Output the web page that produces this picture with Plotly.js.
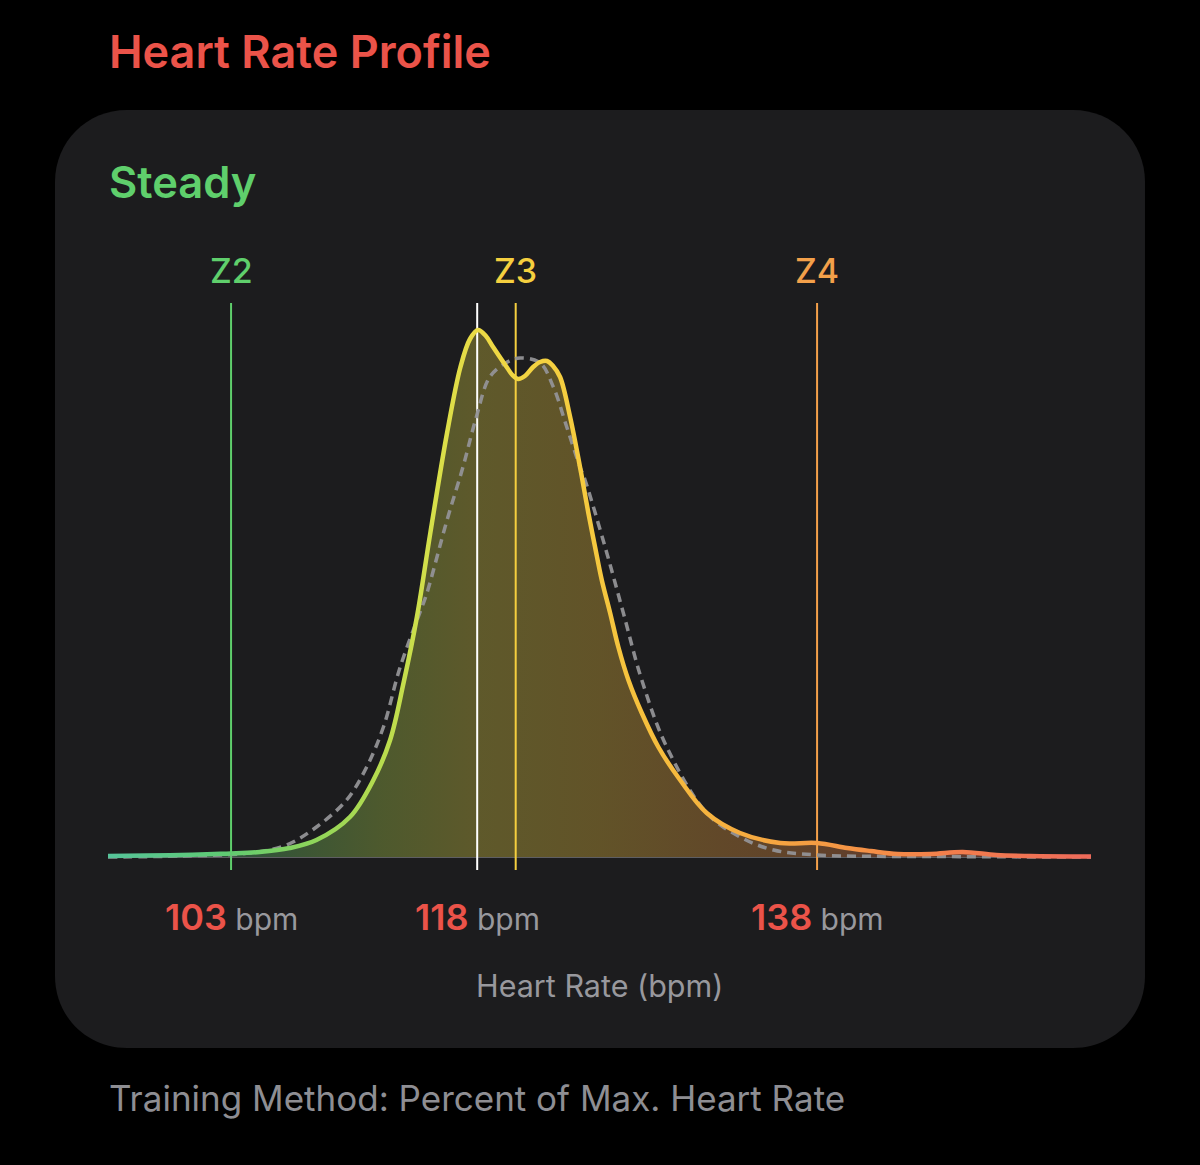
<!DOCTYPE html>
<html>
<head>
<meta charset="utf-8">
<script src="https://cdn.plot.ly/plotly-3.0.1.min.js"></script>
<style>
  html, body { margin: 0; padding: 0; background: #000; }
  #chart { width: 1200px; height: 1165px; }
</style>
</head>
<body>
<div id="chart"></div>
<script>
// ---------------- DATA ----------------
// Heart-rate distribution of the workout (bpm vs relative time density)
const heartRate = [95.65, 98, 100, 102, 103, 104.7, 106.5, 108.1, 110.1, 111.5, 112.5, 113.3, 114.1, 114.9, 115.9, 116.7, 117.27, 117.75, 118.22, 118.65, 119.5, 119.8, 120.14, 120.55, 121.04, 121.46, 121.87, 122.23, 122.65, 123.25, 123.84, 124.34, 124.74, 125.14, 125.64, 126.13, 126.73, 127.53, 128.52, 129.82, 131.41, 133.4, 135.8, 138, 139.8, 141.2, 142.8, 144.8, 146.7, 148.7, 150.7, 154.36];
const density   = [1, 1.5, 2, 3, 3.5, 5, 9, 17, 40, 77, 117, 174, 240, 324, 424, 490, 518, 527, 521, 510, 489, 482, 478, 481, 490, 495, 496, 491, 480, 440, 390, 344, 310, 277, 244, 210, 177, 144, 110, 77, 44, 24, 14, 14, 9, 6, 3, 3, 5, 2, 1, 0.5];

// Reference (expected) profile, dashed grey
const expectedHR      = [95.65, 100, 104.1, 106.3, 108.1, 109.9, 111.1, 112.1, 113.1, 114.4, 114.7, 115.9, 116.85, 117.65, 118.45, 119.4, 120.26, 121.46, 122.25, 123.05, 123.84, 124.14, 125.34, 126.43, 127.53, 129.02, 131.41, 133.4, 135.4, 138, 145, 154.36];
const expectedDensity = [0, 1, 4, 12, 30, 57, 90, 130, 190, 250, 264, 337, 390, 440, 480, 494, 499, 494, 470, 430, 390, 377, 310, 244, 177, 110, 44, 20, 7, 2, 0.5, 0];

// Zones
const zoneNames  = ['Z2', 'Z3', 'Z4'];
const zoneStarts = [103, 120, 138];
const zoneColors = ['#5fcf6c', '#f5cf3f', '#f3a04a'];

// Average heart rate (white marker)
const averageHR = 117.7;

// Bottom value labels
const markerValues = [103, averageHR, 138];
const markerLabels = ['103', '118', '138'];

// ---------------- LAYOUT HELPERS ----------------
const PL = 108, PR = 1091, PT = 303, PB = 870;   // plot area in px
const ax = px => (px - PL) / (PR - PL);
const ay = py => (PB - py) / (PB - PT);
const yRange = [-13, 554];
const xRange = [heartRate[0], heartRate[heartRate.length - 1]];

function roundedRect(x0, y0, x1, y1, r) {
  const k = 0.56;
  const P = (x, y) => ax(x).toFixed(5) + ',' + ay(y).toFixed(5);
  return 'M ' + P(x0 + r, y0) +
    ' L ' + P(x1 - r, y0) +
    ' C ' + P(x1 - r + k * r, y0) + ' ' + P(x1, y0 + r - k * r) + ' ' + P(x1, y0 + r) +
    ' L ' + P(x1, y1 - r) +
    ' C ' + P(x1, y1 - r + k * r) + ' ' + P(x1 - r + k * r, y1) + ' ' + P(x1 - r, y1) +
    ' L ' + P(x0 + r, y1) +
    ' C ' + P(x0 + r - k * r, y1) + ' ' + P(x0, y1 - r + k * r) + ' ' + P(x0, y1 - r) +
    ' L ' + P(x0, y0 + r) +
    ' C ' + P(x0, y0 + r - k * r) + ' ' + P(x0 + r - k * r, y0) + ' ' + P(x0 + r, y0) + ' Z';
}

const FONT = 'Inter, "Noto Sans", Roboto, sans-serif';

// ---------------- TRACES ----------------
const traces = [];

// gradient area
traces.push({
  type: 'scatter', mode: 'lines',
  x: heartRate, y: density,
  line: { width: 0, shape: 'spline', smoothing: 1 },
  fill: 'tozeroy',
  fillgradient: {
    type: 'horizontal',
    start: xRange[0], stop: xRange[1],
    colorscale: [
      [0.00, 'rgba(86,196,154,0.30)'],
      [0.15, 'rgba(95,203,114,0.32)'],
      [0.28, 'rgba(184,220,78,0.32)'],
      [0.38, 'rgba(236,218,69,0.32)'],
      [0.50, 'rgba(246,200,62,0.32)'],
      [0.62, 'rgba(245,166,64,0.32)'],
      [0.80, 'rgba(243,130,74,0.32)'],
      [1.00, 'rgba(238,106,90,0.32)']
    ]
  },
  hoverinfo: 'skip'
});

// zone lines
zoneStarts.forEach((z, i) => {
  traces.push({
    type: 'scatter', mode: 'lines',
    x: [z, z], y: yRange,
    line: { color: zoneColors[i], width: 2 },
    hoverinfo: 'skip'
  });
});
// average line
traces.push({
  type: 'scatter', mode: 'lines',
  x: [averageHR, averageHR], y: yRange,
  line: { color: '#ffffff', width: 2 },
  hoverinfo: 'skip'
});

// expected profile (dashed)
traces.push({
  type: 'scatter', mode: 'lines',
  x: expectedHR, y: expectedDensity,
  line: { color: 'rgba(146,146,150,0.95)', width: 3.5, dash: '9px,6px', shape: 'spline', smoothing: 1 },
  hoverinfo: 'skip'
});

// main profile line (gradient stroke applied after render)
traces.push({
  type: 'scatter', mode: 'lines',
  x: heartRate, y: density,
  line: { color: '#f5d040', width: 4.5, shape: 'spline', smoothing: 1 },
  hoverinfo: 'skip'
});

// ---------------- ANNOTATIONS ----------------
const annotations = [];
annotations.push({
  xref: 'paper', yref: 'paper', x: ax(107), y: ay(52), xanchor: 'left', yanchor: 'middle',
  text: 'Heart Rate Profile', showarrow: false,
  font: { family: FONT, size: 45, color: '#eb5349', weight: 600 }
});
annotations.push({
  xref: 'paper', yref: 'paper', x: ax(107), y: ay(182), xanchor: 'left', yanchor: 'middle',
  text: 'Steady', showarrow: false,
  font: { family: FONT, size: 43.5, color: '#5fcf6c', weight: 600 }
});
zoneNames.forEach((n, i) => {
  annotations.push({
    xref: 'x', yref: 'paper', x: zoneStarts[i], y: ay(270), xanchor: 'center', yanchor: 'middle',
    text: n, showarrow: false,
    font: { family: FONT, size: 34, color: zoneColors[i], weight: 500 }
  });
});
markerValues.forEach((v, i) => {
  annotations.push({
    xref: 'x', yref: 'paper', x: v, y: ay(917), xanchor: 'center', yanchor: 'middle',
    text: '<span style="color:#eb5349;font-size:36px;font-weight:600">' + markerLabels[i] + '</span> bpm',
    showarrow: false,
    font: { family: FONT, size: 30, color: '#98989d', weight: 400 }
  });
});
annotations.push({
  xref: 'paper', yref: 'paper', x: ax(599), y: ay(985), xanchor: 'center', yanchor: 'middle',
  text: 'Heart Rate (bpm)', showarrow: false,
  font: { family: FONT, size: 30.5, color: '#98989d', weight: 400 }
});
annotations.push({
  xref: 'paper', yref: 'paper', x: ax(107), y: ay(1098), xanchor: 'left', yanchor: 'middle',
  text: 'Training Method: Percent of Max. Heart Rate', showarrow: false,
  font: { family: FONT, size: 35, color: '#8e8e93', weight: 400 }
});

// ---------------- LAYOUT ----------------
const layout = {
  width: 1200, height: 1165,
  margin: { l: PL, r: 1200 - PR, t: PT, b: 1165 - PB, pad: 0 },
  paper_bgcolor: '#000000',
  plot_bgcolor: 'rgba(0,0,0,0)',
  showlegend: false,
  hovermode: false,
  xaxis: { range: xRange, showgrid: false, zeroline: false, showticklabels: false, ticks: '', showline: false, fixedrange: true },
  yaxis: { range: yRange, showgrid: false, zeroline: true, zerolinecolor: '#5e5e62', zerolinewidth: 1, showticklabels: false, ticks: '', showline: false, fixedrange: true },
  shapes: [{
    type: 'path', xref: 'paper', yref: 'paper', layer: 'below',
    path: roundedRect(55, 110, 1145, 1048, 72),
    fillcolor: '#1c1c1e', line: { width: 0 }
  }],
  annotations: annotations
};

Plotly.newPlot('chart', traces, layout, { displayModeBar: false, staticPlot: true }).then(gd => {
  const ns = 'http://www.w3.org/2000/svg';
  const svg = gd.querySelector('svg.main-svg');
  let defs = svg.querySelector('defs');
  if (!defs) { defs = document.createElementNS(ns, 'defs'); svg.insertBefore(defs, svg.firstChild); }
  const lg = document.createElementNS(ns, 'linearGradient');
  lg.setAttribute('id', 'hrLineGrad');
  lg.setAttribute('x1', '0'); lg.setAttribute('y1', '0');
  lg.setAttribute('x2', '1'); lg.setAttribute('y2', '0');
  const stops = [
    [0.00, '#56c49a'], [0.12, '#5fcb72'], [0.21, '#8fd55a'], [0.28, '#b8dc4e'],
    [0.33, '#d6e04a'], [0.38, '#ecda45'], [0.45, '#f5d040'], [0.55, '#f6bf3d'],
    [0.66, '#f5a940'], [0.72, '#f59c43'], [0.85, '#f37f4b'], [1.00, '#ee6a5a']
  ];
  stops.forEach(s => {
    const st = document.createElementNS(ns, 'stop');
    st.setAttribute('offset', s[0]);
    st.setAttribute('stop-color', s[1]);
    lg.appendChild(st);
  });
  defs.appendChild(lg);
  const tr = gd.querySelectorAll('.scatterlayer .trace');
  const path = tr[tr.length - 1].querySelector('path.js-line');
  if (path) path.style.stroke = 'url(#hrLineGrad)';
});
</script>
</body>
</html>
